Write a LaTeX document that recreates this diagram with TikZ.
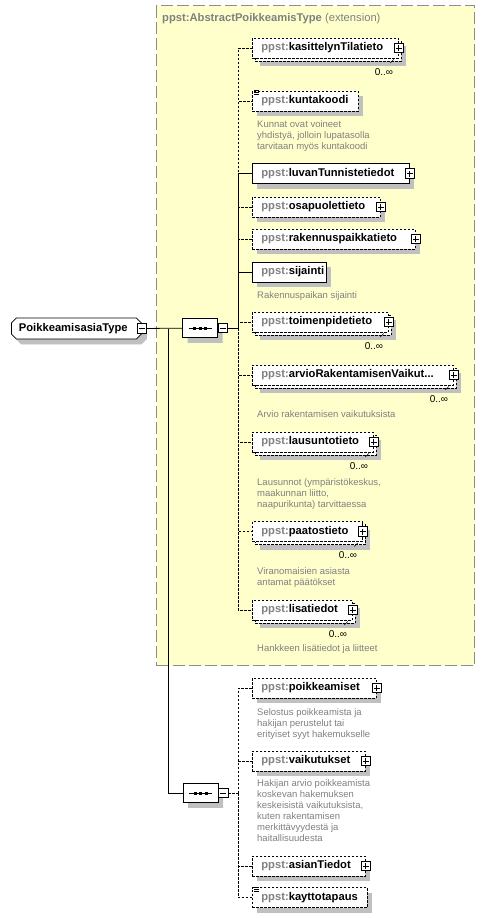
\documentclass[tikz,border=0pt]{standalone}
\usepackage{fontspec}
\setmainfont{Liberation Sans}
\usetikzlibrary{shapes.misc}
\definecolor{extfill}{HTML}{FFFFCC}
\definecolor{pfx}{HTML}{808080}
\definecolor{shadowgray}{HTML}{C0C0C0}
\newcommand{\ppst}[1]{\mbox{\textcolor{pfx}{ppst:}#1}}
\tikzstyle{wire} = [line width=0.8pt]
\tikzstyle{dashline} = [dash pattern=on 2.5pt off 1.5pt]
\tikzstyle{elem} = [draw, fill=white, line width=0.8pt, anchor=west, minimum height=20pt, inner xsep=9pt, inner ysep=0pt, align=left, font=\fontsize{11.2}{13}\selectfont\bfseries]
\tikzstyle{req} = [elem]
\tikzstyle{opt} = [elem, dashline]
\tikzstyle{multi} = [elem, dashline]
\tikzstyle{plusbox} = [draw, fill=white, line width=0.7pt, minimum size=9.5pt, inner sep=0pt, path picture={\draw[black,line width=0.7pt] ([xshift=-3pt]path picture bounding box.center) -- ([xshift=3pt]path picture bounding box.center) ([yshift=-3pt]path picture bounding box.center) -- ([yshift=3pt]path picture bounding box.center);}]
\tikzstyle{minusbox} = [draw, fill=white, line width=0.7pt, minimum size=9.5pt, inner sep=0pt, path picture={\draw[black,line width=0.7pt] ([xshift=-3pt]path picture bounding box.center) -- ([xshift=3pt]path picture bounding box.center);}]
\tikzstyle{typebox} = [chamfered rectangle, chamfered rectangle xsep=2.5pt, chamfered rectangle ysep=2.5pt, draw, fill=white, line width=0.8pt, minimum height=21pt, inner xsep=5pt, inner ysep=0pt, align=left, font=\fontsize{11.2}{13}\selectfont\bfseries]
\tikzstyle{seqshape} = [chamfered rectangle, chamfered rectangle xsep=5pt, chamfered rectangle ysep=5pt, minimum width=35pt, minimum height=19.5pt, inner sep=0pt]
\tikzstyle{seqbox} = [seqshape, draw, fill=white, line width=0.8pt, path picture={\draw[black,line width=0.8pt] ([xshift=-11.5pt]path picture bounding box.center) -- ([xshift=11.5pt]path picture bounding box.center); \foreach \d in {-5.5,0,5.5} \fill[black] ([xshift=\d pt]path picture bounding box.center) +(-1.5pt,-1.5pt) rectangle +(1.5pt,1.5pt);}]
\tikzstyle{doc} = [anchor=north west, inner sep=0pt, align=left, text=pfx, font=\fontsize{9.5}{11}\selectfont]
\tikzstyle{card} = [anchor=east, inner sep=0pt, font=\fontsize{10}{12}\selectfont]
\tikzstyle{extbox} = [draw=black!45, fill=extfill, line width=1.2pt, dash pattern=on 12pt off 4pt, anchor=north west, minimum width=318pt, minimum height=660pt, inner sep=0pt]

\begin{document}
\begin{tikzpicture}[x=1pt,y=-1pt]
	\useasboundingbox (0,0) rectangle (485,918);
	\node[extbox] (ext) at (156,5) {}; % extension frame
	\node[anchor=west,inner sep=0pt,text=pfx,font=\fontsize{11.2}{13}\selectfont] (extTitle) at (162,19) {\textbf{ppst:AbstractPoikkeamisType} (extension)};
	% shadows (y/width)
	\foreach \y/\w in {101/106,173.5/157,207/128,239/163,272/74,688/124,761/113,866/113,897.5/115}
		\fill[shadowgray] (257,\y-5) rectangle ++(\w,20);
	\foreach \y/\w in {48/146,322/136,375/201,442/121,531.5/110,610/100}
		\fill[shadowgray] (260,\y-2) rectangle ++(\w,20);
	% stacked copies of repeated boxes
	\foreach \y/\w in {48/146,322/136,375/201,442/121,531.5/110,610/100}
		\draw[fill=white,line width=0.8pt,dashline] (255,\y-7) rectangle ++(\w,20);
	\node[typebox,anchor=west,fill=shadowgray,draw=shadowgray,text width=115pt] (ptypeShadow) at (16,333.5) {\phantom{PoikkeamisasiaType}};
	\node[seqshape,fill=shadowgray] (seq1Shadow) at (205,333) {};
	\node[seqshape,fill=shadowgray] (seq2Shadow) at (205.5,798) {};
	% type and compositors
	\node[typebox,anchor=west,text width=115pt] (ptype) at (11,328.5) {PoikkeamisasiaType};
	\node[minusbox] (ptype-m) at (ptype.east) {};
	\node[seqbox] (seq1) at (200,328) {};
	\node[minusbox] (seq1-m) at ([xshift=4.8pt]seq1.east) {};
	\node[seqbox] (seq2) at (200.5,793) {};
	\node[minusbox] (seq2-m) at ([xshift=4.8pt]seq2.east) {};
	\coordinate (trunk) at (168,328.5);
	\coordinate (bus1) at (238,328);
	\coordinate (bus2) at (238,793);
	% elements of the extension
	\node[multi,text width=128pt] (kasit) at (252,48) {\ppst{kasittelynTilatieto}};
	\node[opt,text width=88pt] (kunta) at (252,101) {\ppst{kuntakoodi}};
	\node[req,text width=139pt] (luvan) at (252,173.5) {\ppst{luvanTunnistetiedot}};
	\node[opt,text width=110pt] (osap) at (252,207) {\ppst{osapuolettieto}};
	\node[opt,text width=145pt] (raken) at (252,239) {\ppst{rakennuspaikkatieto}};
	\node[req,text width=56pt] (sijainti) at (252,272) {\ppst{sijainti}};
	\node[multi,text width=118pt] (toimen) at (252,322) {\ppst{toimenpidetieto}};
	\node[multi,text width=183pt] (arvio) at (252,375) {\ppst{arvioRakentamisenVaikut...}};
	\node[multi,text width=103pt] (lausu) at (252,442) {\ppst{lausuntotieto}};
	\node[multi,text width=92pt] (paatos) at (252,531.5) {\ppst{paatostieto}};
	\node[multi,text width=82pt] (lisat) at (252,610) {\ppst{lisatiedot}};
	% elements of the second sequence
	\node[opt,text width=106pt] (poikk) at (252,688) {\ppst{poikkeamiset}};
	\node[opt,text width=95pt] (vaikut) at (252,761) {\ppst{vaikutukset}};
	\node[opt,text width=95pt] (asian) at (252,866) {\ppst{asianTiedot}};
	\node[opt,text width=97pt] (kaytto) at (252,897.5) {\ppst{kayttotapaus}};
	\foreach \n in {kasit,luvan,osap,raken,toimen,arvio,lausu,paatos,lisat,poikk,vaikut,asian}
		\node[plusbox] (\n-p) at (\n.east) {};
	\foreach \n in {kasit,toimen,arvio,lausu,paatos,lisat} {
		\node[card] (\n-card) at ([xshift=-5.5pt,yshift=-24pt]\n.east) {0..∞};
		\draw[line width=0.6pt] ([xshift=-5pt,yshift=-11.5pt]\n.east) -- ([xshift=-8.5pt,yshift=-15pt]\n.east);
	}
	\foreach \n in {kunta,kaytto}
		\foreach \k in {0,2,4}
			\draw[line width=0.6pt] ([xshift=2pt,yshift=-\k pt]\n.north west) -- ++(4.5pt,0);
	% annotations
	\node[doc] (kuntaDoc) at (257,120) {Kunnat ovat voineet\\yhdistyä, jolloin lupatasolla\\tarvitaan myös kuntakoodi};
	\node[doc] (sijaintiDoc) at (257,291) {Rakennuspaikan sijainti};
	\node[doc] (arvioDoc) at (257,410) {Arvio rakentamisen vaikutuksista};
	\node[doc] (lausuDoc) at (257,478) {Lausunnot (ympäristökeskus,\\maakunnan liitto,\\naapurikunta) tarvittaessa};
	\node[doc] (paatosDoc) at (257,567) {Viranomaisien asiasta\\antamat päätökset};
	\node[doc] (lisatDoc) at (257,644) {Hankkeen lisätiedot ja liitteet};
	\node[doc] (poikkDoc) at (257,708) {Selostus poikkeamista ja\\hakijan perustelut tai\\erityiset syyt hakemukselle};
	\node[doc] (vaikutDoc) at (257,779) {Hakijan arvio poikkeamista\\koskevan hakemuksen\\keskeisistä vaikutuksista,\\kuten rakentamisen\\merkittävyydestä ja\\haitallisuudesta};
	% connectors
	\draw[wire] (ptype-m) -- (seq1);
	\draw[wire] (trunk) |- (seq2);
	\draw[wire] (seq1-m) -- (bus1);
	\draw[wire,dashline] (seq2-m) -- (bus2);
	\foreach \n in {kasit,kunta,osap,raken,toimen,arvio,lausu,paatos,lisat}
		\draw[wire,dashline] (bus1) |- (\n);
	\foreach \n in {luvan,sijainti}
		\draw[wire] (bus1) |- (\n);
	\foreach \n in {poikk,vaikut,asian,kaytto}
		\draw[wire,dashline] (bus2) |- (\n);
\end{tikzpicture}
\end{document}
